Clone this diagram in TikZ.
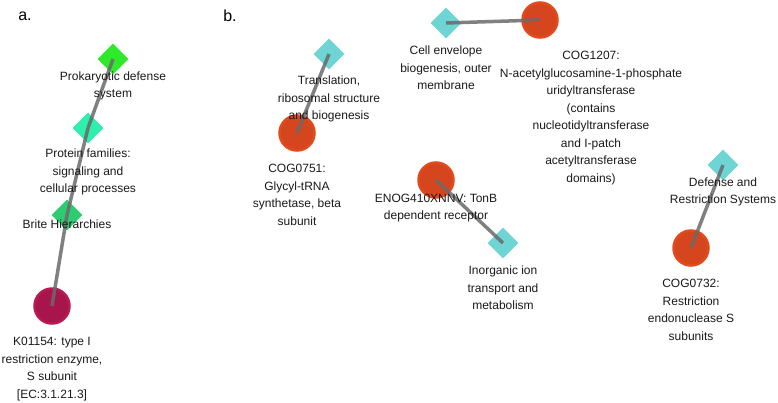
\documentclass[tikz,border=0pt]{standalone}
\usepackage{fontspec}
\setmainfont{Liberation Sans}
\usepackage{xcolor}
\usetikzlibrary{shapes.geometric}
\definecolor{cogred}{HTML}{D5461F}
\definecolor{cogring}{HTML}{E24A1C}
\definecolor{keggred}{HTML}{A8144C}
\definecolor{keggring}{HTML}{BA1A52}
\definecolor{cogteal}{HTML}{6FD4D4}
\definecolor{defgreen}{HTML}{2EEA2A}
\definecolor{famgreen}{HTML}{30EFAD}
\definecolor{britegreen}{HTML}{2ECC72}
\definecolor{edgegray}{HTML}{6A6A6A}

\begin{document}
\begin{tikzpicture}[x=1pt, y=-1pt,
    term/.style={diamond, aspect=1, inner sep=0pt, minimum width=31pt, minimum height=31pt},
    gene/.style={circle, inner sep=0pt, minimum size=35pt, line width=2.5pt},
    lbl/.style={align=center, inner sep=0pt, text=black!90,
      font=\fontsize{12}{17.5}\selectfont},
    link/.style={draw=edgegray, line width=3.5pt, opacity=0.85}]
  \useasboundingbox (0,0) rectangle (778,402);

  % panel letters
  \node[font=\fontsize{16}{19}\selectfont] (pa) at (25,16) {a.};
  \node[font=\fontsize{16}{19}\selectfont] (pb) at (230,16) {b.};

  % panel a: KEGG path
  \node[term, fill=defgreen] (prok) at (113,59) {};
  \node[term, fill=famgreen] (fam) at (88,128) {};
  \node[term, fill=britegreen] (brite) at (67,215) {};
  \node[gene, fill=keggred, draw=keggring] (k01154) at (52,306) {};

  % panel b: COG pairs
  \node[term, fill=cogteal] (transl) at (329,54) {};
  \node[gene, fill=cogred, draw=cogring] (cog0751) at (297,133) {};
  \node[term, fill=cogteal] (envel) at (446,23) {};
  \node[gene, fill=cogred, draw=cogring] (cog1207) at (540,20) {};
  \node[gene, fill=cogred, draw=cogring] (enog) at (436,180) {};
  \node[term, fill=cogteal] (inorg) at (503,243) {};
  \node[term, fill=cogteal] (defres) at (723,165) {};
  \node[gene, fill=cogred, draw=cogring] (cog0732) at (691,248) {};

  % edges, centre to centre
  \draw[link] (k01154.center) -- (brite.center);
  \draw[link] (brite.center) -- (fam.center);
  \draw[link] (fam.center) -- (prok.center);
  \draw[link] (cog0751.center) -- (transl.center);
  \draw[link] (envel.center) -- (cog1207.center);
  \draw[link] (enog.center) -- (inorg.center);
  \draw[link] (cog0732.center) -- (defres.center);

  % labels
  \node[lbl] (prok-l) at (113,86) {Prokaryotic defense\\system};
  \node[lbl] (fam-l) at (88,172) {Protein families:\\signaling and\\cellular processes};
  \node[lbl] (brite-l) at (67,224) {Brite Hierarchies};
  \node[lbl] (k01154-l) at (52,369) {K01154: type I\\restriction enzyme,\\S subunit\\{}[EC:3.1.21.3]};
  \node[lbl] (transl-l) at (329,99) {Translation,\\ribosomal structure\\and biogenesis};
  \node[lbl] (cog0751-l) at (297,195) {COG0751:\\Glycyl-tRNA\\synthetase, beta\\subunit};
  \node[lbl] (envel-l) at (446,68) {Cell envelope\\biogenesis, outer\\membrane};
  \node[lbl] (cog1207-l) at (591,118) {COG1207:\\N-acetylglucosamine-1-phosphate\\uridyltransferase\\(contains\\nucleotidyltransferase\\and I-patch\\acetyltransferase\\domains)};
  \node[lbl] (enog-l) at (436,208) {ENOG410XNNV: TonB\\dependent receptor};
  \node[lbl] (inorg-l) at (503,288) {Inorganic ion\\transport and\\metabolism};
  \node[lbl] (defres-l) at (723,192) {Defense and\\Restriction Systems};
  \node[lbl] (cog0732-l) at (691,310) {COG0732:\\Restriction\\endonuclease S\\subunits};
\end{tikzpicture}
\end{document}
